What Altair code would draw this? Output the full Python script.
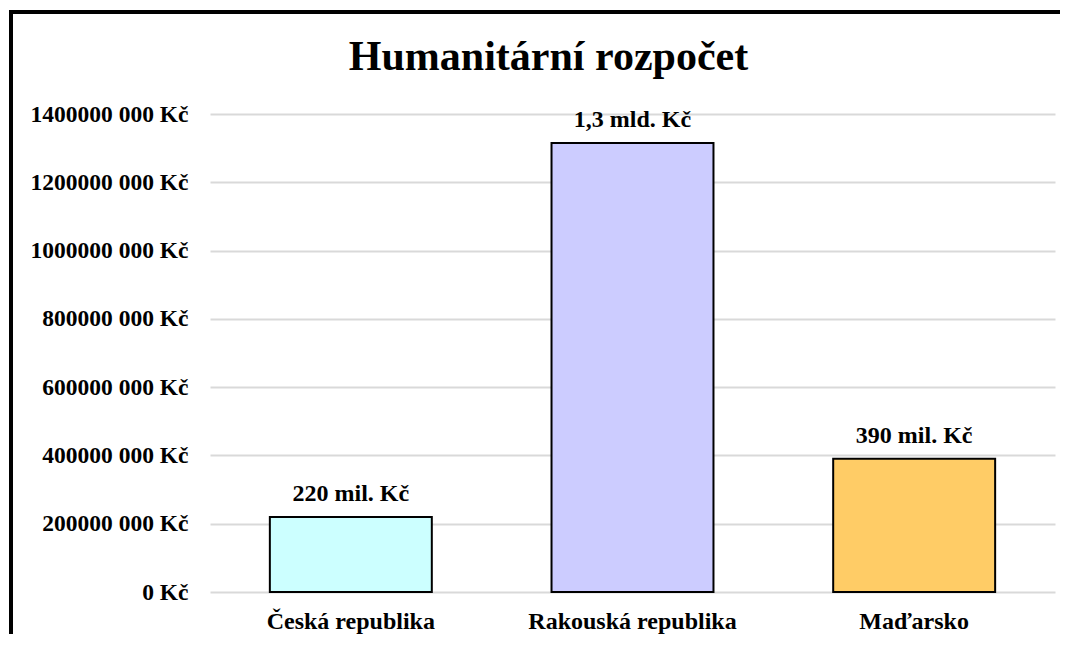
import altair as alt
import pandas as pd

countries = ["Česká republika", "Rakouská republika", "Maďarsko"]
values = [220_000_000, 1_315_000_000, 390_000_000]
bar_labels = ["220 mil. Kč", "1,3 mld. Kč", "390 mil. Kč"]
bar_colors = ["#CCFFFF", "#CCCCFF", "#FFCC66"]
y_ticks = [0, 200_000_000, 400_000_000, 600_000_000, 800_000_000,
           1_000_000_000, 1_200_000_000, 1_400_000_000]

df = pd.DataFrame({"country": countries, "value": values, "label": bar_labels})

FONT = "Liberation Serif"

x_enc = alt.X("country:N", sort=countries,
              scale=alt.Scale(paddingInner=0.425, paddingOuter=0.2125),
              axis=alt.Axis(title=None, labelAngle=0, domain=False, ticks=False, tickSize=0,
                            labelPadding=17, labelFont=FONT, labelFontSize=24, labelLimit=0,
                            labelFontWeight="bold", labelColor="#000000"))
y_enc = alt.Y("value:Q", scale=alt.Scale(domain=[0, 1_400_000_000], nice=False),
              axis=alt.Axis(title=None, values=y_ticks, domain=False, ticks=False, tickSize=0,
                            labelPadding=22, labelFont=FONT, labelFontSize=23.5, labelLimit=0,
                            labelFontWeight="bold", labelColor="#000000",
                            labelExpr="datum.value == 0 ? '0 Kč' : floor(datum.value / 1000) + ' 000 Kč'",
                            grid=True, gridColor="#d9d9d9", gridWidth=2))

base = alt.Chart(df)

bars = base.mark_bar(stroke="#000000", strokeWidth=2).encode(
    x=x_enc, y=y_enc,
    color=alt.Color("country:N", scale=alt.Scale(domain=countries, range=bar_colors), legend=None),
)

texts = base.mark_text(font=FONT, fontSize=24, fontWeight="bold", color="#000000",
                       baseline="alphabetic", dy=-16).encode(
    x=alt.X("country:N", sort=countries), y="value:Q", text="label:N")

one = alt.Chart(pd.DataFrame({"k": [0]}))
top_border = one.mark_rule(color="#000000", strokeWidth=4).encode(
    x=alt.value(-199), x2=alt.value(850), y=alt.value(-102))
left_border = one.mark_rule(color="#000000", strokeWidth=4).encode(
    x=alt.value(-199), y=alt.value(-104), y2=alt.value(520))

chart = alt.layer(bars, texts, top_border, left_border).properties(
    width=845, height=478,
    title=alt.TitleParams("Humanitární rozpočet", font=FONT, fontSize=42,
                          fontWeight="bold", color="#000000", anchor="middle",
                          dx=-84, dy=75),
    padding={"left": 1, "top": 0, "right": 0, "bottom": 0},
    background="#ffffff",
).configure_view(stroke=None)

chart.save("out.html", embed_options={"renderer": "svg", "actions": False})
